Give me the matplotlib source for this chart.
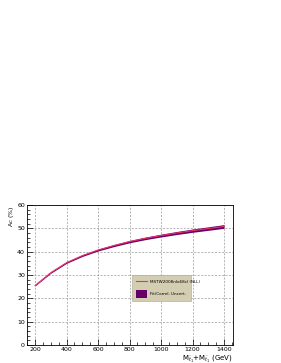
import matplotlib
matplotlib.use("Agg")
import matplotlib.pyplot as plt
from matplotlib.ticker import MultipleLocator
import numpy as np

# stop mass sum (GeV), charge asymmetry (%), band half-width (%)
mass = [200, 300, 400, 500, 600, 700, 800, 900, 1000, 1100, 1200, 1300, 1400]
ac = [25.5, 31.0, 35.3, 38.3, 40.7, 42.6, 44.3, 45.7, 46.9, 48.0, 49.0, 49.9, 50.8]
err = [0.2, 0.25, 0.3, 0.35, 0.4, 0.45, 0.5, 0.55, 0.6, 0.65, 0.7, 0.75, 0.8]

mass = np.array(mass)
ac = np.array(ac)
err = np.array(err)

fig = plt.figure(figsize=(2.81, 3.63), dpi=100)
ax = fig.add_axes([27/281, 1-345/363, 206/281, 140/363])

band = ax.fill_between(mass, ac-err, ac+err, color="#660066", lw=0, zorder=2)
line, = ax.plot(mass, ac, color="#e8336a", lw=0.8, zorder=3)

ax.set_xlim(149, 1457)
ax.set_ylim(0, 60)
ax.xaxis.set_major_locator(MultipleLocator(200))
ax.xaxis.set_minor_locator(MultipleLocator(50))
ax.yaxis.set_major_locator(MultipleLocator(10))
ax.yaxis.set_minor_locator(MultipleLocator(2))
ax.tick_params(which="both", direction="in", labelsize=4.5, pad=1.5)
ax.tick_params(which="major", length=4, width=0.5)
ax.tick_params(which="minor", length=2, width=0.5)
ax.grid(True, which="major", ls=(0, (3, 2)), color="#999999", lw=0.5)
for s in ax.spines.values():
    s.set_linewidth(0.6)

ax.set_xlabel(r"M$_{\tilde{t}_1}$+M$_{\tilde{t}_1}$ (GeV)", fontsize=5, loc="right", labelpad=1)
ax.set_ylabel(r"A$_C$ (%)", fontsize=4.5, loc="top", labelpad=1)

leg = ax.legend([line, band], ["MSTW2008nlo68cl (NLL)", "Fit/Correl. Uncert."],
                loc="center", bbox_to_anchor=(0.5, 0.307, 0.306, 0.2), mode="expand",
                fontsize=3, frameon=True, fancybox=False, handlelength=2.7,
                handleheight=2.4, labelspacing=1.0, borderpad=0.9)
leg.get_frame().set_facecolor("#d3ceb2")
leg.get_frame().set_edgecolor("#a8a48c")
leg.get_frame().set_linewidth(0.4)
leg.get_frame().set_alpha(1)

fig.savefig("out.png", dpi=100)
